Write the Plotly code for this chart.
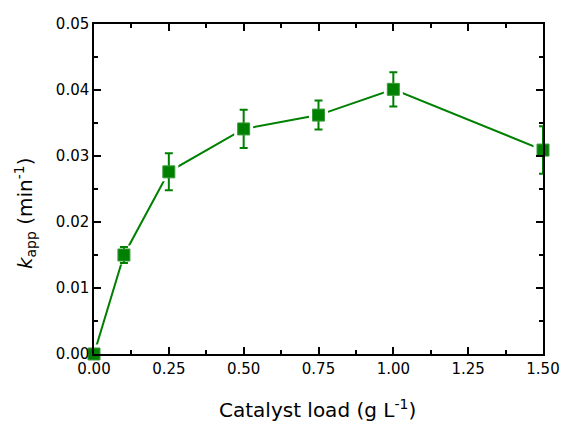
import plotly.graph_objects as go

catalyst_load = [0.0, 0.1, 0.25, 0.5, 0.75, 1.0, 1.5]
k_app = [0.0, 0.0150, 0.0276, 0.0341, 0.0362, 0.0401, 0.0309]
k_err = [0.0, 0.0012, 0.0028, 0.0029, 0.0022, 0.0026, 0.0036]

green = "#008000"
font = "DejaVu Sans"

fig = go.Figure()
fig.add_trace(go.Scatter(x=catalyst_load, y=k_app, mode="lines",
                         line=dict(color=green, width=2), cliponaxis=False,
                         showlegend=False, hoverinfo="skip"))
fig.add_trace(go.Scatter(x=catalyst_load, y=k_app, mode="markers",
                         marker=dict(symbol="square", size=19, color="white"),
                         cliponaxis=False, showlegend=False, hoverinfo="skip"))
fig.add_trace(go.Scatter(x=catalyst_load, y=k_app, mode="markers",
                         marker=dict(symbol="square", size=12, color=green,
                                     line=dict(color="#3a9a3a", width=1)),
                         error_y=dict(type="data", array=k_err, visible=True,
                                      color=green, thickness=2, width=4),
                         cliponaxis=False, showlegend=False))

axis_common = dict(showline=True, linecolor="black", linewidth=1.5, mirror="ticks",
                   ticks="inside", ticklen=7, tickwidth=1.5, tickcolor="black",
                   showgrid=False, zeroline=False, automargin=False,
                   tickfont=dict(family=font, size=15, color="black"))

fig.update_xaxes(range=[0, 1.5], dtick=0.25, tickformat=".2f",
                 minor=dict(dtick=0.125, ticks="inside", ticklen=4, tickwidth=1.5, tickcolor="black"),
                 **axis_common)
fig.update_yaxes(range=[0, 0.05], dtick=0.01, tickformat=".2f",
                 minor=dict(dtick=0.005, ticks="inside", ticklen=4, tickwidth=1.5, tickcolor="black"),
                 **axis_common)

fig.add_annotation(text="Catalyst load (g L<sup>-1</sup>)", xref="paper", yref="paper",
                   x=0.4967, y=-0.1667, xanchor="center", yanchor="middle", showarrow=False,
                   font=dict(family=font, size=20, color="black"))
fig.add_annotation(text="<i>k</i><sub>app</sub> (min<sup>-1</sup>)", xref="paper", yref="paper",
                   x=-0.1537, y=0.427, xanchor="center", yanchor="middle", showarrow=False,
                   textangle=-90, font=dict(family=font, size=20, color="black"))

fig.update_layout(width=561, height=421,
                  margin=dict(l=94, r=18, t=24, b=67),
                  plot_bgcolor="white", paper_bgcolor="white")

fig.write_html("out.html", config={"displayModeBar": False},
               post_script="document.body.style.margin='0';document.body.style.overflow='hidden';")
